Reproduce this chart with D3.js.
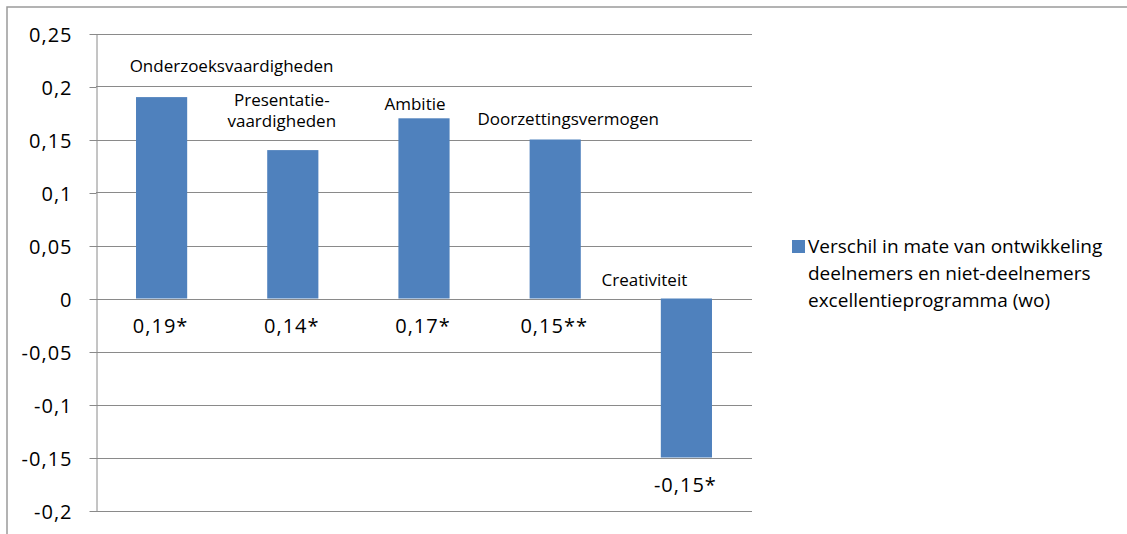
<!DOCTYPE html>
<html>
<head>
<meta charset="utf-8">
<script src="https://cdnjs.cloudflare.com/ajax/libs/d3/7.8.5/d3.min.js"></script>
<style>
  body { margin: 0; background: #fff; }
  text { font-family: "Open Sans", sans-serif; fill: #000; }
</style>
</head>
<body>
<div id="chart"></div>
<script>
// Chart data
var categoryLines = [["Onderzoeksvaardigheden"], ["Presentatie-", "vaardigheden"], ["Ambitie"], ["Doorzettingsvermogen"], ["Creativiteit"]];
var values = [0.19, 0.14, 0.17, 0.15, -0.15];
var significance = ["*", "*", "*", "**", "*"];
var yTicks = [-0.2, -0.15, -0.1, -0.05, 0, 0.05, 0.1, 0.15, 0.2, 0.25];
var legendLines = ["Verschil in mate van ontwikkeling", "deelnemers en niet-deelnemers", "excellentieprogramma (wo)"];

// Where the category names sit, relative to the bar center and bar end (layout only)
var nameDx = [70, -11, -9, 13, -42];
var nameDy = [-25, -23, -8.5, -15, -13];

var width = 1127, height = 534;
var plotLeft = 96, plotRight = 752, plotTop = 33.5, plotBottom = 510.5;
var barColor = "#4f81bd", gridColor = "#8a8a8a";

var nl = d3.formatLocale({decimal: ",", thousands: ".", grouping: [3], currency: ["€", ""], minus: "-"});
var fmt = nl.format("~g");

var svg = d3.select("#chart").append("svg")
  .attr("width", width)
  .attr("height", height);

// outer chart border (only top and left are visible)
svg.append("rect")
  .attr("x", 7).attr("y", 7)
  .attr("width", 1300).attr("height", 800)
  .attr("fill", "none")
  .attr("stroke", "#9a9a9a")
  .attr("stroke-width", 1.5);

var x = d3.scaleBand()
  .domain(d3.range(values.length))
  .range([plotLeft, plotRight])
  .paddingInner(0.61)
  .paddingOuter(0.305);

var y = d3.scaleLinear()
  .domain([-0.2, 0.25])
  .range([plotBottom, plotTop]);

// gridlines
svg.append("g").selectAll("line")
  .data(yTicks)
  .join("line")
  .attr("x1", plotLeft).attr("x2", plotRight)
  .attr("y1", function(d) { return Math.round(y(d)) + 0.5; })
  .attr("y2", function(d) { return Math.round(y(d)) + 0.5; })
  .attr("stroke", gridColor)
  .attr("stroke-width", 1);

// y axis
var yAxis = svg.append("g")
  .attr("transform", "translate(" + (plotLeft + 0.5) + ",0.5)")
  .call(d3.axisLeft(y).tickValues(yTicks).tickFormat(fmt).tickSize(7).tickSizeOuter(0).tickPadding(17));
yAxis.select(".domain").attr("stroke", gridColor);
yAxis.selectAll(".tick line").attr("stroke", gridColor);
yAxis.selectAll(".tick text")
  .attr("dy", "0.36em")
  .style("font-family", "'Open Sans', sans-serif")
  .style("font-size", "20px")
  .style("letter-spacing", "1px")
  .attr("fill", "#000");

// bars
svg.append("g").selectAll("rect")
  .data(values)
  .join("rect")
  .attr("x", function(d, i) { return x(i); })
  .attr("y", function(d) { return y(Math.max(0, d)); })
  .attr("width", x.bandwidth())
  .attr("height", function(d) { return Math.abs(y(d) - y(0)); })
  .attr("fill", barColor);

// value labels
svg.append("g").selectAll("text")
  .data(values)
  .join("text")
  .attr("x", function(d, i) { return x(i) + x.bandwidth() / 2 - 1; })
  .attr("y", function(d) { return y(Math.min(0, d)) + 34; })
  .attr("text-anchor", "middle")
  .style("font-size", "20px")
  .style("letter-spacing", "1px")
  .text(function(d, i) { return fmt(d) + significance[i]; });

// category names above the bars
var names = svg.append("g").selectAll("text")
  .data(categoryLines)
  .join("text")
  .attr("text-anchor", "middle")
  .style("font-size", "17px");
names.each(function(lines, i) {
  var cx = x(i) + x.bandwidth() / 2 + nameDx[i];
  var base = y(Math.max(0, values[i])) + nameDy[i];
  d3.select(this).selectAll("tspan")
    .data(lines)
    .join("tspan")
    .attr("x", cx)
    .attr("y", function(d, j) { return base - (lines.length - 1 - j) * 21.5; })
    .text(function(d) { return d; });
});

// legend
svg.append("rect")
  .attr("x", 792).attr("y", 240)
  .attr("width", 13).attr("height", 13)
  .attr("fill", barColor);
svg.append("g").selectAll("text")
  .data(legendLines)
  .join("text")
  .attr("x", 808)
  .attr("y", function(d, i) { return 253 + i * 27; })
  .style("font-size", "19px")
  .text(function(d) { return d; });
</script>
</body>
</html>
